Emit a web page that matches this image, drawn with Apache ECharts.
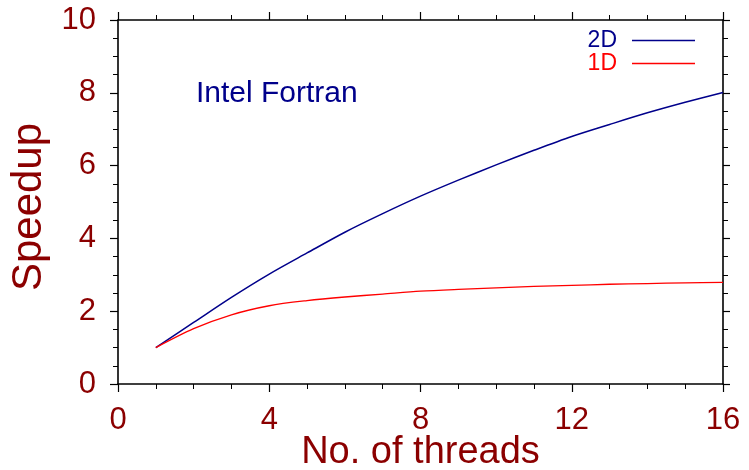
<!DOCTYPE html>
<html>
<head>
<meta charset="utf-8">
<script src="https://cdn.jsdelivr.net/npm/echarts@6/dist/echarts.min.js"></script>
<style>html,body{margin:0;padding:0;background:#fff;}#c{width:749px;height:470px;}</style>
</head>
<body>
<div id="c"></div>
<script>
var threads = [1,2,3,4,5,6,7,8,9,10,11,12,13,14,15,16];
var speedup2D = [1.00,1.69,2.38,3.02,3.60,4.17,4.68,5.16,5.60,6.02,6.42,6.80,7.13,7.45,7.74,8.01];
var speedup1D = [1.00,1.52,1.90,2.15,2.29,2.39,2.47,2.55,2.60,2.64,2.68,2.71,2.74,2.76,2.78,2.79];
var seriesNames = ['2D','1D'];
var xTicks = {min:0, max:16, interval:4};
var yTicks = {min:0, max:10, interval:2};

var dark = '#8B0000', navy = '#00008B', red = '#FF0000';
var font = 'Liberation Sans, Arial, Helvetica, sans-serif';
function pairs(xs, ys){ return xs.map(function(x,i){ return [x, ys[i]]; }); }
var axisLine = {show:true, onZero:false, lineStyle:{color:'#000', width:1.6}};

var chart = echarts.init(document.getElementById('c'), null, {renderer:'canvas'});
chart.setOption({
  animation:false,
  backgroundColor:'#fff',
  title:{text:'Intel Fortran', left:196, top:79, padding:0,
    textStyle:{fontFamily:font, fontSize:30, fontWeight:'normal', color:navy}},
  legend:{orient:'vertical', right:54, top:29, align:'right', padding:0, itemGap:0,
    itemWidth:63, itemHeight:1.5, icon:'rect',
    data:[{name:'2D', textStyle:{color:navy}},{name:'1D', textStyle:{color:red}}],
    textStyle:{fontFamily:font, fontSize:23, padding:[0,10,0,0], lineHeight:23}},
  grid:{left:118, right:26, top:20, bottom:86, containLabel:false, outerBoundsMode:'none'},
  xAxis:[{type:'value', min:xTicks.min, max:xTicks.max, interval:xTicks.interval, position:'bottom',
      name:'No. of threads', nameLocation:'middle', nameGap:50, nameMoveOverlap:false,
      nameTextStyle:{fontFamily:font, fontSize:38, color:dark},
      axisLine:axisLine, axisTick:{show:true, length:8, lineStyle:{color:'#000', width:1.2}},
      minorTick:{show:true, splitNumber:4, length:5, lineStyle:{color:'#000', width:1}},
      axisLabel:{fontFamily:font, fontSize:31, color:dark, margin:21},
      splitLine:{show:false}},
    {type:'value', min:xTicks.min, max:xTicks.max, interval:xTicks.interval, position:'top',
      axisLine:axisLine, axisTick:{show:true, length:8, lineStyle:{color:'#000', width:1.2}},
      minorTick:{show:true, splitNumber:4, length:5, lineStyle:{color:'#000', width:1}},
      axisLabel:{show:false}, splitLine:{show:false}}],
  yAxis:[{type:'value', min:yTicks.min, max:yTicks.max, interval:yTicks.interval, position:'left',
      name:'Speedup', nameLocation:'middle', nameGap:68, nameMoveOverlap:false,
      nameTextStyle:{fontFamily:font, fontSize:42, color:dark, padding:[0,0,0,-10]},
      axisLine:axisLine, axisTick:{show:true, length:8, lineStyle:{color:'#000', width:1.2}},
      minorTick:{show:true, splitNumber:4, length:5, lineStyle:{color:'#000', width:1}},
      axisLabel:{fontFamily:font, fontSize:31, color:dark, margin:22},
      splitLine:{show:false}},
    {type:'value', min:yTicks.min, max:yTicks.max, interval:yTicks.interval, position:'right',
      axisLine:axisLine, axisTick:{show:true, length:7, lineStyle:{color:'#000', width:1.2}},
      minorTick:{show:true, splitNumber:4, length:5, lineStyle:{color:'#000', width:1}},
      axisLabel:{show:false}, splitLine:{show:false}}],
  series:[
    {name:seriesNames[0], type:'line', data:pairs(threads, speedup2D), smooth:0.3, symbol:'none',
      lineStyle:{color:navy, width:1.5}, itemStyle:{color:navy}},
    {name:seriesNames[1], type:'line', data:pairs(threads, speedup1D), smooth:0.3, symbol:'none',
      lineStyle:{color:red, width:1.3}, itemStyle:{color:red}}
  ]
});
</script>
</body>
</html>
